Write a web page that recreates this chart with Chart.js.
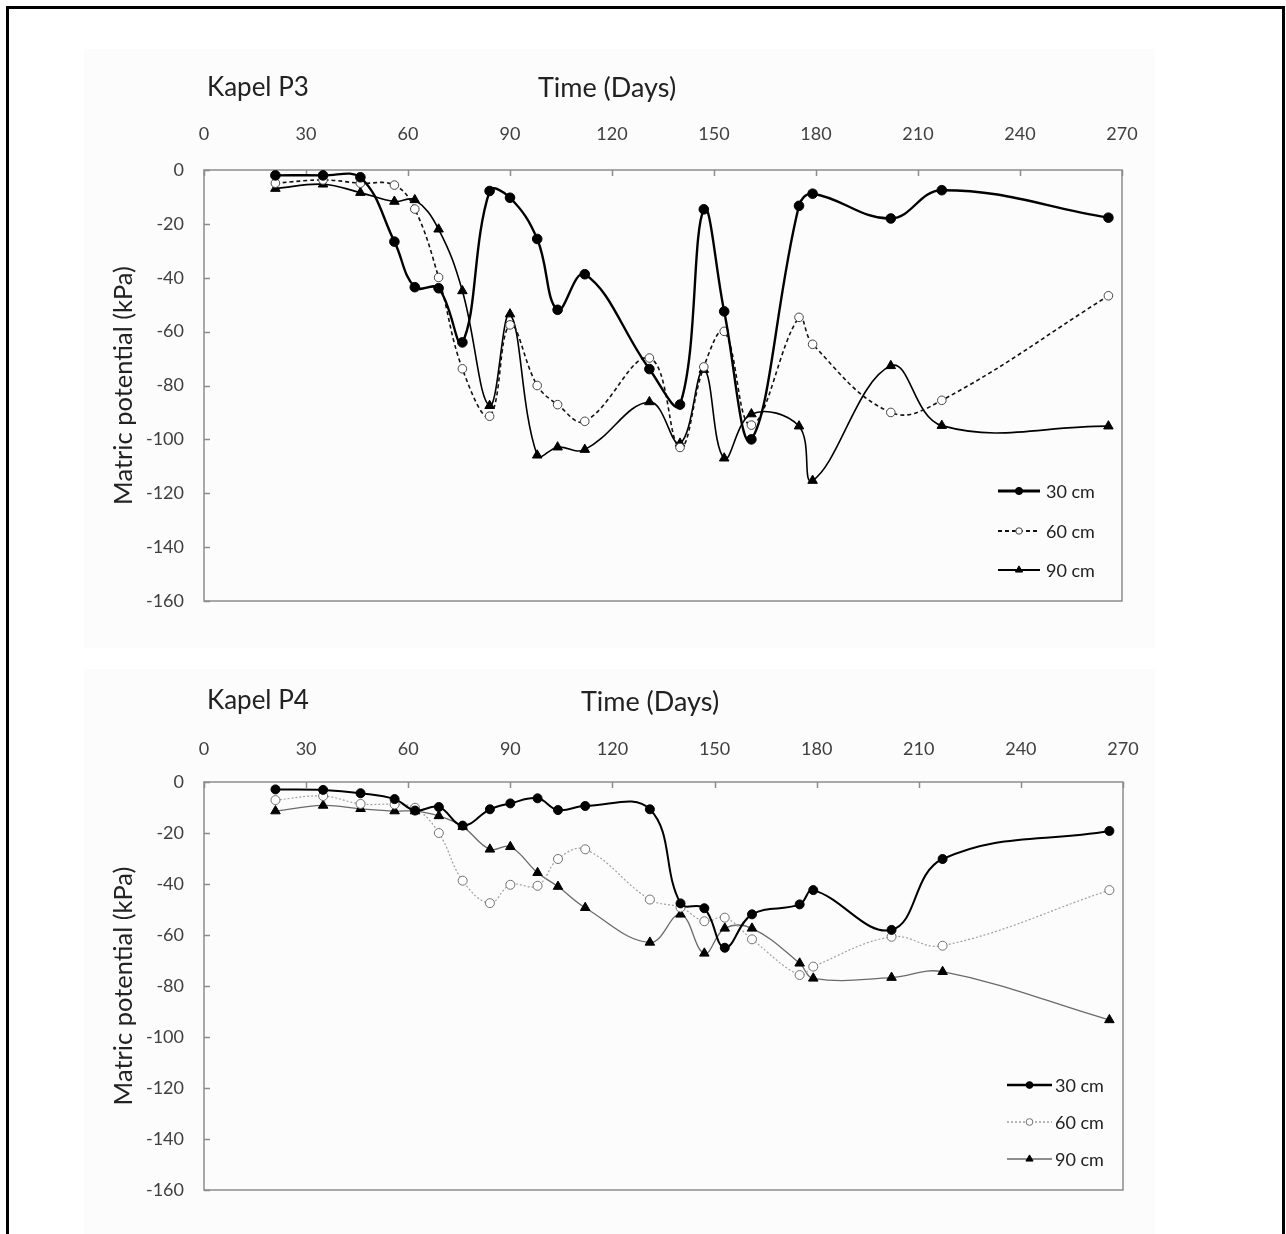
<!DOCTYPE html>
<html>
<head>
<meta charset="utf-8">
<title>Matric potential – Kapel P3 / P4</title>
<script src="https://cdn.jsdelivr.net/npm/chart.js@4.4.1/dist/chart.umd.min.js"></script>
<style>
  html, body { margin: 0; padding: 0; background: #fff; overflow: hidden; }
  body { font-family: Lato, "Open Sans", sans-serif; width: 1286px; height: 1234px; position: relative; }
  #frame { position: absolute; left: 6px; top: 6px; width: 1273px; height: 1240px;
           border: 3px solid #000; border-bottom: none; }
  .panel { position: absolute; left: 84px; width: 1071px; background: #fcfcfc; }
  canvas { position: absolute; left: 0; }
  .lbl { position: absolute; font-size: 26px; color: #222; white-space: nowrap;
         line-height: 1; transform: translateY(-50%); }
  .center { transform: translate(-50%, -50%); font-size: 27px; }
</style>
</head>
<body>
<div id="frame"></div>
<div class="panel" style="top:49px;height:599px"></div>
<div class="panel" style="top:669px;height:570px"></div>

<canvas id="p3" width="1286" height="640" style="top:0"></canvas>
<canvas id="p4" width="1286" height="614" style="top:620px"></canvas>

<div class="lbl" style="left:207px;top:86px">Kapel P3</div>
<div class="lbl center" style="left:607px;top:86px">Time (Days)</div>
<div class="lbl" style="left:207px;top:699px">Kapel P4</div>
<div class="lbl center" style="left:650px;top:700px">Time (Days)</div>

<script>
// sampling days (same for both sites)
const days = [21, 35, 46, 56, 62, 69, 76, 84, 90, 98, 104, 112, 131, 140, 147, 153, 161, 175, 179, 202, 217, 266];
const depths = ['30 cm', '60 cm', '90 cm'];

// Kapel P3, matric potential in kPa
const p3_30 = [-2.0, -2.0, -2.7, -26.6, -43.5, -43.9, -64.0, -7.8, -10.3, -25.6, -51.9, -38.7, -73.9, -87.1, -14.6, -52.5, -100.0, -13.3, -8.8, -18.0, -7.5, -17.7];
const p3_60 = [-4.9, -3.7, -4.9, -5.6, -14.5, -39.9, -73.8, -91.4, -57.5, -80.0, -87.1, -93.3, -69.8, -103.0, -73.1, -59.9, -94.7, -54.7, -64.7, -90.0, -85.5, -46.7];
const p3_90 = [-6.9, -5.3, -8.4, -11.7, -11.1, -22.0, -44.9, -87.5, -53.5, -105.9, -102.9, -103.8, -86.1, -101.5, -74.1, -107.0, -90.6, -95.1, -115.3, -72.7, -94.9, -95.1];

// Kapel P4, matric potential in kPa
const p4_30 = [-2.9, -3.1, -4.4, -6.7, -11.2, -9.8, -17.1, -10.7, -8.4, -6.4, -11.0, -9.4, -10.7, -47.6, -49.5, -65.0, -51.9, -48.0, -42.4, -58.0, -30.2, -19.2];
const p4_60 = [-7.1, -5.5, -8.6, -8.8, -10.1, -20.0, -38.7, -47.5, -40.3, -40.7, -30.2, -26.4, -46.1, -49.2, -54.6, -53.2, -61.7, -75.7, -72.4, -60.7, -64.2, -42.4];
const p4_90 = [-11.4, -9.2, -10.5, -11.4, -11.4, -13.3, -17.5, -26.4, -25.4, -35.6, -41.0, -49.3, -62.9, -51.9, -67.2, -57.4, -57.4, -71.1, -77.0, -76.7, -74.4, -93.3];

const xTicks = { min: 0, max: 270, step: 30 };
const yTicks = { min: -160, max: 0, step: 20 };

const FONT = 'Lato, "Open Sans", sans-serif';
const AXIS_COLOR = '#8c8c8c';

// box around the plot area with short inward tick marks
const frameBox = {
  id: 'frameBox',
  beforeDatasetsDraw(chart) {
    const { ctx, chartArea: a, scales } = chart;
    ctx.save();
    ctx.strokeStyle = AXIS_COLOR;
    ctx.lineWidth = 1.5;
    ctx.strokeRect(a.left, a.top, a.right - a.left, a.bottom - a.top);
    ctx.beginPath();
    scales.x.ticks.forEach(t => {
      const px = Math.round(scales.x.getPixelForValue(t.value)) + 0.5;
      ctx.moveTo(px, a.top);
      ctx.lineTo(px, a.top + 6);
    });
    scales.y.ticks.forEach(t => {
      const py = Math.round(scales.y.getPixelForValue(t.value)) + 0.5;
      ctx.moveTo(a.left, py);
      ctx.lineTo(a.left + 6, py);
    });
    ctx.stroke();
    ctx.restore();
  }
};

function marker(ctx, ds, x, y) {
  const r = ds.pointRadius;
  ctx.save();
  ctx.setLineDash([]);
  ctx.fillStyle = ds.pointBackgroundColor;
  ctx.strokeStyle = ds.pointBorderColor;
  ctx.lineWidth = ds.pointBorderWidth;
  ctx.beginPath();
  if (ds.pointStyle === 'triangle') {
    ctx.moveTo(x, y - r);
    ctx.lineTo(x + r * 0.866, y + r * 0.5);
    ctx.lineTo(x - r * 0.866, y + r * 0.5);
    ctx.closePath();
  } else {
    ctx.arc(x, y, r, 0, Math.PI * 2);
  }
  ctx.fill();
  ctx.stroke();
  ctx.restore();
}

// legend entries drawn as line sample + marker, like the series
const lineLegend = {
  id: 'lineLegend',
  afterDraw(chart, args, opts) {
    const { ctx, chartArea: a } = chart;
    chart.data.datasets.forEach((ds, i) => {
      const y = a.bottom + opts.rows[i];
      const x0 = a.right + opts.x;
      const x1 = x0 + opts.len;
      ctx.save();
      ctx.strokeStyle = ds.borderColor;
      ctx.lineWidth = ds.borderWidth + 0.4;
      ctx.setLineDash(ds.borderDash || []);
      ctx.beginPath();
      ctx.moveTo(x0, y);
      ctx.lineTo(x1, y);
      ctx.stroke();
      ctx.restore();
      marker(ctx, Object.assign({}, ds, { pointRadius: ds.pointRadius * 0.75 }), (x0 + x1) / 2, y);
      ctx.save();
      ctx.fillStyle = '#222';
      ctx.font = '18px ' + FONT;
      ctx.textBaseline = 'middle';
      ctx.fillText(ds.label, x1 + opts.gap, y + 1);
      ctx.restore();
    });
  }
};

function makeChart(id, series, styles, lay) {
  const datasets = series.map((vals, i) => {
    const s = styles[i];
    return {
      label: depths[i],
      data: days.map((d, k) => ({ x: d, y: vals[k] })),
      borderColor: s.color,
      borderWidth: s.width,
      borderDash: s.dash,
      pointStyle: s.point,
      pointRadius: s.radius,
      pointBackgroundColor: s.fill,
      pointBorderColor: s.stroke,
      pointBorderWidth: 1,
      tension: 0.4,
      fill: false
    };
  });

  return new Chart(document.getElementById(id), {
    type: 'line',
    data: { datasets },
    options: {
      responsive: false,
      animation: false,
      events: [],
      layout: { padding: { left: lay.padL, right: lay.padR, top: 0, bottom: lay.padB } },
      plugins: {
        legend: { display: false },
        tooltip: { enabled: false },
        lineLegend: lay.legend
      },
      scales: {
        x: {
          type: 'linear',
          position: 'top',
          min: xTicks.min,
          max: xTicks.max,
          ticks: { stepSize: xTicks.step, padding: lay.xPad, color: '#404040', font: { family: FONT, size: 18 } },
          grid: { display: false, drawTicks: false },
          border: { display: false },
          afterFit: (s) => { s.height = lay.xH; }
        },
        y: {
          type: 'linear',
          min: yTicks.min,
          max: yTicks.max,
          ticks: { stepSize: yTicks.step, padding: 20, color: '#404040', font: { family: FONT, size: 18 } },
          grid: { display: false, drawTicks: false },
          border: { display: false },
          title: { display: true, text: 'Matric potential (kPa)', color: '#222', padding: 0,
                   font: { family: FONT, size: 25.5 } },
          afterFit: (s) => { s.width = 96; }
        }
      }
    },
    plugins: [frameBox, lineLegend]
  });
}

makeChart('p3', [p3_30, p3_60, p3_90], [
  { color: '#000', width: 2.4, dash: [], point: 'circle', radius: 4.8, fill: '#000', stroke: '#000' },
  { color: '#111', width: 1.6, dash: [4, 3], point: 'circle', radius: 4.3, fill: '#fff', stroke: '#444' },
  { color: '#000', width: 1.6, dash: [], point: 'triangle', radius: 5.5, fill: '#000', stroke: '#000' }
], { padL: 108, padR: 164, padB: 39, xH: 170, xPad: 25,
     legend: { x: -124, len: 42, gap: 6, rows: [-110, -70, -31] } });

makeChart('p4', [p4_30, p4_60, p4_90], [
  { color: '#000', width: 2.0, dash: [], point: 'circle', radius: 4.5, fill: '#000', stroke: '#000' },
  { color: '#a0a0a0', width: 1.2, dash: [2, 2], point: 'circle', radius: 4.5, fill: '#fff', stroke: '#707070' },
  { color: '#6a6a6a', width: 1.3, dash: [], point: 'triangle', radius: 5.5, fill: '#000', stroke: '#000' }
], { padL: 108, padR: 163, padB: 44, xH: 162, xPad: 22,
     legend: { x: -116, len: 45, gap: 3, rows: [-105, -68, -31] } });
</script>
</body>
</html>
